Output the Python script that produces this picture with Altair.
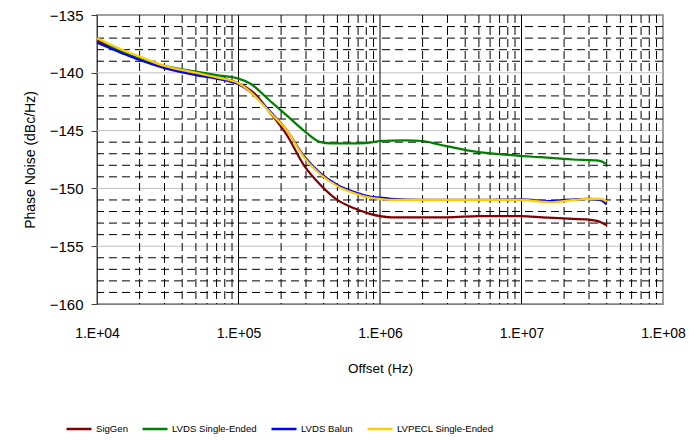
import altair as alt
import pandas as pd

series_names = ["SigGen", "LVDS Single-Ended", "LVDS Balun", "LVPECL Single-Ended"]
series_colors = ["#800000", "#008000", "#0000FF", "#FFCC00"]

siggen_f = [1e4, 1.5e4, 2e4, 3e4, 5e4, 7e4, 1e5, 1.3e5, 1.66e5, 2.2e5, 2.9e5, 3.8e5,
            5e5, 6.5e5, 8.5e5, 1e6, 1.2e6, 3e6, 5e6, 1e7, 1.4e7, 2e7, 3e7, 3.6e7, 4e7]
siggen_v = [-137.2, -138.2, -138.8, -139.5, -140.0, -140.4, -140.9, -141.8, -143.4, -145.4,
            -148.0, -149.7, -151.0, -151.7, -152.2, -152.4, -152.5, -152.5, -152.4, -152.4,
            -152.5, -152.6, -152.7, -152.9, -153.2]

lvds_se_f = [1e4, 1.5e4, 2e4, 3e4, 5e4, 7e4, 1e5, 1.2e5, 1.66e5, 2.2e5, 2.9e5, 3.8e5,
             4.5e5, 7e5, 9e5, 1e6, 1.5e6, 2e6, 2.6e6, 4.6e6, 8e6, 1.35e7, 2.3e7, 3.5e7, 4e7]
lvds_se_v = [-137.0, -138.2, -138.8, -139.4, -139.9, -140.2, -140.5, -140.9, -142.4, -143.7,
             -145.0, -146.0, -146.1, -146.1, -146.0, -145.9, -145.85, -145.9, -146.2, -146.8,
             -147.1, -147.3, -147.5, -147.6, -147.9]

lvds_balun_f = [1e4, 1.5e4, 2e4, 3e4, 5e4, 7e4, 1e5, 1.2e5, 1.66e5, 2.2e5, 2.9e5, 3.8e5,
                5e5, 6.5e5, 8.5e5, 1e6, 1.2e6, 2e6, 5e6, 1e7, 1.6e7, 2e7, 3e7, 3.6e7, 4e7]
lvds_balun_v = [-137.4, -138.3, -138.9, -139.6, -140.2, -140.5, -141.0, -141.6, -143.3, -145.0,
                -147.2, -148.7, -149.7, -150.3, -150.7, -150.8, -150.9, -151.0, -151.0, -150.95,
                -151.1, -151.0, -150.9, -151.0, -151.4]

lvpecl_se_f = [1e4, 1.5e4, 2e4, 3e4, 5e4, 7e4, 1e5, 1.2e5, 1.66e5, 2.2e5, 2.9e5, 3.8e5,
               5e5, 6.5e5, 8.5e5, 1e6, 1.2e6, 2e6, 5e6, 1e7, 1.6e7, 2e7, 3e7, 3.6e7, 4e7]
lvpecl_se_v = [-137.0, -138.0, -138.6, -139.4, -140.0, -140.4, -140.9, -141.6, -143.4, -145.0,
               -147.3, -148.8, -149.8, -150.4, -150.8, -150.9, -151.0, -151.0, -151.0, -151.0,
               -151.2, -151.1, -150.9, -150.9, -151.1]

x_tick_values = [1e4, 1e5, 1e6, 1e7, 1e8]
x_major_grid = [1e5, 1e6, 1e7]
x_minor_grid = [2e4, 3e4, 4e4, 5e4, 6e4, 7e4, 8e4, 9e4,
                2e5, 3e5, 4e5, 5e5, 6e5, 7e5, 8e5, 9e5,
                2e6, 3e6, 4e6, 5e6, 6e6, 7e6, 8e6, 9e6,
                2e7, 3e7, 4e7, 5e7, 6e7, 7e7, 8e7, 9e7]
y_tick_values = [-160, -155, -150, -145, -140, -135]
y_major_grid = [-155, -150, -145, -140]
y_minor_grid = [-159, -158, -157, -156, -154, -153, -152, -151, -149, -148, -147, -146,
                -144, -143, -142, -141, -139, -138, -137, -136]

rows = []
for name, fs, vs in zip(series_names,
                        [siggen_f, lvds_se_f, lvds_balun_f, lvpecl_se_f],
                        [siggen_v, lvds_se_v, lvds_balun_v, lvpecl_se_v]):
    for f, v in zip(fs, vs):
        rows.append({"Series": name, "Offset": f, "PN": v})
df = pd.DataFrame(rows)

x_scale = alt.Scale(type="log", domain=[1e4, 1e8], nice=False)
y_scale = alt.Scale(domain=[-160, -135], nice=False, zero=False)

x_axis = alt.Axis(values=x_tick_values, title="Offset (Hz)", grid=False, ticks=False,
                  labelExpr="'1.E+0' + round(log(datum.value) / LN10)",
                  labelFontSize=14, labelPadding=22, titleFontSize=13.5,
                  titleFontWeight="normal", titlePadding=21,
                  domainColor="#808080", labelColor="#000000", titleColor="#000000",
                  labelFlush=False)
y_axis = alt.Axis(values=y_tick_values, title="Phase Noise (dBc/Hz)", grid=False,
                  tickSize=6, tickColor="#404040", domainColor="#404040",
                  labelFontSize=15, labelPadding=8, titleFontSize=14,
                  titleFontWeight="normal", titlePadding=12,
                  labelColor="#000000", titleColor="#000000")

hminor = alt.Chart(pd.DataFrame({"PN": y_minor_grid})).mark_rule(
    color="#000000", strokeWidth=1, strokeDash=[8, 5]
).encode(y=alt.Y("PN:Q", scale=y_scale, axis=y_axis))

hmajor = alt.Chart(pd.DataFrame({"PN": y_major_grid})).mark_rule(
    color="#c0c0c0", strokeWidth=1
).encode(y=alt.Y("PN:Q", scale=y_scale, axis=y_axis))

vminor = alt.Chart(pd.DataFrame({"Offset": x_minor_grid})).mark_rule(
    color="#000000", strokeWidth=1, strokeDash=[8, 4]
).encode(x=alt.X("Offset:Q", scale=x_scale, axis=x_axis))

vmajor = alt.Chart(pd.DataFrame({"Offset": x_major_grid})).mark_rule(
    color="#000000", strokeWidth=1
).encode(x=alt.X("Offset:Q", scale=x_scale, axis=x_axis))

lines = alt.Chart(df).mark_line(strokeWidth=2.2, interpolate="monotone").encode(
    x=alt.X("Offset:Q", scale=x_scale, axis=x_axis),
    y=alt.Y("PN:Q", scale=y_scale, axis=y_axis),
    color=alt.Color("Series:N",
                    scale=alt.Scale(domain=series_names, range=series_colors),
                    sort=series_names,
                    legend=alt.Legend(title=None, orient="none", direction="horizontal",
                                      legendX=-32, legendY=400,
                                      symbolType="stroke", symbolSize=625,
                                      symbolStrokeWidth=2.5, labelFontSize=9.6,
                                      labelOffset=3, columnPadding=9,
                                      labelColor="#000000")),
)

chart = alt.layer(hminor, hmajor, vminor, vmajor, lines).properties(
    width=566, height=289,
    autosize=alt.AutoSizeParams(type="none"),
    padding={"left": 97, "top": 15, "right": 28, "bottom": 136},
).configure(font="Liberation Sans").configure_view(stroke="#808080", strokeWidth=1.5)

chart.save("out.html", embed_options={"renderer": "svg", "actions": False})
